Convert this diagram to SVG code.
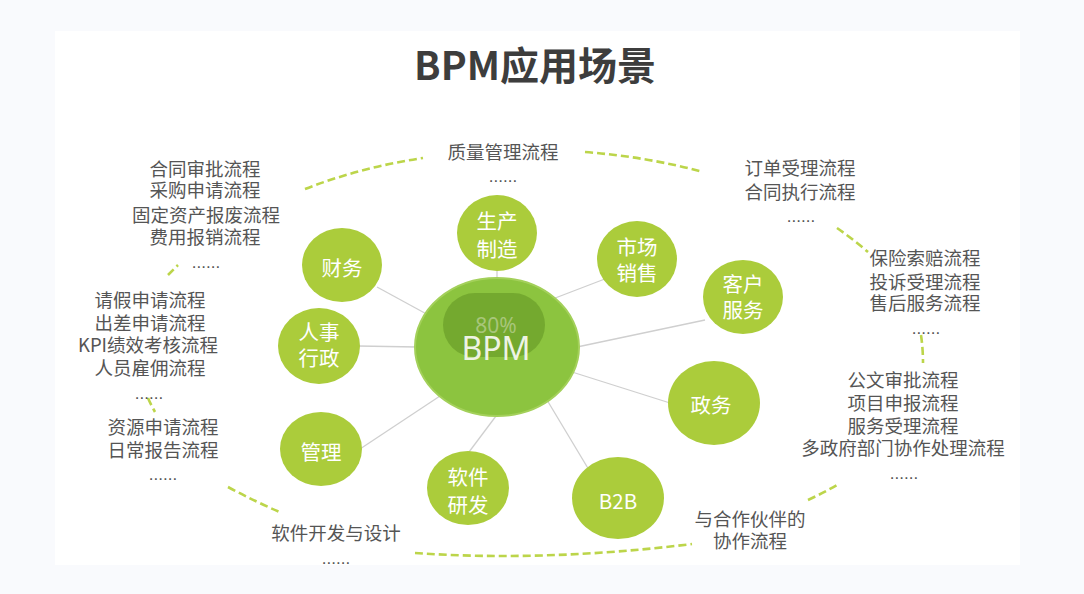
<svg xmlns="http://www.w3.org/2000/svg" width="1084" height="594" viewBox="0 0 1084 594">
<style>
.lbl{font-family:"Noto Sans CJK SC","Noto Sans",sans-serif;font-size:18.5px;fill:#555555;text-anchor:middle}
.dots{font-family:"Liberation Sans",sans-serif;font-size:17px;fill:#555555;text-anchor:middle}
.node{fill:#abcc3b}
.ntx{font-family:"Noto Sans CJK SC","Noto Sans",sans-serif;font-size:20.5px;fill:#ffffff;text-anchor:middle}
.conn{stroke:#cfcfcf;stroke-width:1.3;fill:none}
.arc{stroke:#bcd54a;stroke-width:2.6;fill:none;stroke-dasharray:8 4;stroke-linecap:butt}
</style>
<rect x="0" y="0" width="1084" height="594" fill="#f9fafd"/>
<rect x="55" y="31" width="965" height="534" fill="#ffffff"/>
<text x="535" y="80" font-family="'Noto Sans CJK SC','Noto Sans',sans-serif" font-size="39" font-weight="bold" fill="#3d3d3d" text-anchor="middle">BPM应用场景</text>

<g id="arcs">
<path class="arc" d="M305,189 Q362,167 423,158"/>
<path class="arc" d="M585,152 Q648,157 703,172"/>
<path class="arc" d="M837,228 Q853,239 868,252"/>
<path class="arc" d="M921,335 Q923,349 923,363"/>
<path class="arc" d="M808,500 Q823,493 837,485"/>
<path class="arc" d="M415,553 Q545,562 692,544"/>
<path class="arc" d="M228,487 Q256,502 282,513"/>
<path class="arc" d="M148,398 Q151,405 155,412"/>
<path class="arc" d="M168,275 Q173,270 178,265"/>
</g>

<g id="connectors">
<line class="conn" x1="497" y1="268" x2="497" y2="280"/>
<line class="conn" x1="377" y1="287" x2="432" y2="317"/>
<line class="conn" x1="358" y1="346" x2="417" y2="347"/>
<line class="conn" x1="360" y1="449" x2="440" y2="396"/>
<line class="conn" x1="466" y1="456" x2="499" y2="412"/>
<line class="conn" x1="589" y1="470" x2="541" y2="390"/>
<line class="conn" x1="670" y1="403" x2="572" y2="372"/>
<line class="conn" x1="705" y1="320" x2="577" y2="347"/>
<line class="conn" x1="610" y1="277" x2="550" y2="300"/>
</g>

<g id="center">
<ellipse cx="497" cy="347" rx="82" ry="69" fill="#8cc43f" stroke="#a3d05a" stroke-width="2"/>
<rect x="443" y="293" width="102" height="64" rx="32" fill="#70a52d" opacity="0.85"/>
<text x="496" y="333" font-family="'Noto Sans','Liberation Sans',sans-serif" font-size="21" fill="#a8c67a" text-anchor="middle">80%</text>
<text x="496" y="360" font-family="'Noto Sans','Liberation Sans',sans-serif" font-size="32" fill="#eef3e4" text-anchor="middle">BPM</text>
</g>

<g id="n-production"><ellipse class="node" cx="497" cy="233" rx="40" ry="38"/><text class="ntx" x="497" y="229">生产</text><text class="ntx" x="497" y="257">制造</text></g>
<g id="n-finance"><ellipse class="node" cx="342" cy="265" rx="40" ry="37"/><text class="ntx" x="342" y="276">财务</text></g>
<g id="n-market"><ellipse class="node" cx="637" cy="259" rx="40" ry="38"/><text class="ntx" x="637" y="255">市场</text><text class="ntx" x="637" y="281">销售</text></g>
<g id="n-customer"><ellipse class="node" cx="743" cy="297" rx="40" ry="37"/><text class="ntx" x="743" y="292">客户</text><text class="ntx" x="743" y="318">服务</text></g>
<g id="n-hr"><ellipse class="node" cx="319" cy="346" rx="41" ry="38"/><text class="ntx" x="319" y="340">人事</text><text class="ntx" x="319" y="366">行政</text></g>
<g id="n-gov"><ellipse class="node" cx="714" cy="403" rx="46" ry="42"/><text class="ntx" x="711" y="413">政务</text></g>
<g id="n-manage"><ellipse class="node" cx="321" cy="449" rx="41" ry="37"/><text class="ntx" x="321" y="460">管理</text></g>
<g id="n-software"><ellipse class="node" cx="468" cy="488" rx="41" ry="37"/><text class="ntx" x="468" y="485">软件</text><text class="ntx" x="468" y="513">研发</text></g>
<g id="n-b2b"><ellipse class="node" cx="618" cy="498" rx="46" ry="41"/><text class="ntx" x="618" y="509" font-family="'Noto Sans','Liberation Sans',sans-serif">B2B</text></g>

<g id="labels">
<text class="lbl" x="503" y="159">质量管理流程</text>
<text class="dots" x="503" y="182">......</text>

<text class="lbl" x="205" y="176">合同审批流程</text>
<text class="lbl" x="205" y="197">采购申请流程</text>
<text class="lbl" x="206" y="222">固定资产报废流程</text>
<text class="lbl" x="205" y="244">费用报销流程</text>
<text class="dots" x="206" y="268">......</text>

<text class="lbl" x="150" y="307">请假申请流程</text>
<text class="lbl" x="150" y="330">出差申请流程</text>
<text class="lbl" x="148" y="352">KPI绩效考核流程</text>
<text class="lbl" x="150" y="375">人员雇佣流程</text>
<text class="dots" x="149" y="399">......</text>

<text class="lbl" x="163" y="434">资源申请流程</text>
<text class="lbl" x="163" y="457">日常报告流程</text>
<text class="dots" x="163" y="480">......</text>

<text class="lbl" x="800" y="175">订单受理流程</text>
<text class="lbl" x="800" y="199">合同执行流程</text>
<text class="dots" x="801" y="222">......</text>

<text class="lbl" x="925" y="265">保险索赔流程</text>
<text class="lbl" x="925" y="289">投诉受理流程</text>
<text class="lbl" x="925" y="310">售后服务流程</text>
<text class="dots" x="926" y="334">......</text>

<text class="lbl" x="903" y="387">公文审批流程</text>
<text class="lbl" x="903" y="410">项目申报流程</text>
<text class="lbl" x="903" y="433">服务受理流程</text>
<text class="lbl" x="903" y="455">多政府部门协作处理流程</text>
<text class="dots" x="904" y="479">......</text>

<text class="lbl" x="750" y="526">与合作伙伴的</text>
<text class="lbl" x="750" y="548">协作流程</text>

<text class="lbl" x="336" y="540">软件开发与设计</text>
<text class="dots" x="336" y="564">......</text>
</g>
</svg>
